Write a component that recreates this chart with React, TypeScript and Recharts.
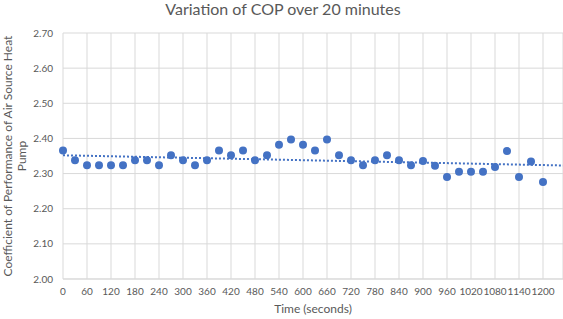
import React from "react";
import { CartesianGrid, ComposedChart, Line, Scatter, XAxis, YAxis } from "recharts";

// time in seconds, COP
const times = [
  0, 30, 60, 90, 120, 150, 180, 210, 240, 270, 300, 330, 360, 390, 420, 450, 480, 510, 540, 570,
  600, 630, 660, 690, 720, 750, 780, 810, 840, 870, 900, 930, 960, 990, 1020, 1050, 1080, 1110, 1140, 1170, 1200,
];
const cop = [
  2.366, 2.338, 2.324, 2.324, 2.324, 2.324, 2.338, 2.338, 2.324, 2.352, 2.338, 2.324, 2.338, 2.366, 2.352, 2.366, 2.338, 2.352, 2.382, 2.397,
  2.382, 2.366, 2.397, 2.352, 2.338, 2.324, 2.338, 2.352, 2.338, 2.324, 2.336, 2.322, 2.290, 2.305, 2.305, 2.305, 2.319, 2.364, 2.290, 2.334, 2.276,
];

// dotted linear trend, ends
const trendTimes = [0, 1250];
const trendCop = [2.352, 2.323];

const xTicks = [0, 60, 120, 180, 240, 300, 360, 420, 480, 540, 600, 660, 720, 780, 840, 900, 960, 1020, 1080, 1140, 1200];
const yTicks = [2.0, 2.1, 2.2, 2.3, 2.4, 2.5, 2.6, 2.7];

const points = times.map((t, i) => ({ t, cop: cop[i] }));
const trend = trendTimes.map((t, i) => ({ t, trend: trendCop[i] }));

const blue = "#4472C4";
const grey = "#595959";
const font = "Lato, 'Open Sans', sans-serif";

export default function App() {
  return (
    <div style={{ position: "absolute", left: 0, top: 0, width: 563, height: 319, fontFamily: font, background: "#fff", overflow: "hidden" }}>
      <ComposedChart width={563} height={319} margin={{ top: 33, right: 0, bottom: 0, left: 0 }}>
        <CartesianGrid stroke="#d9d9d9" />
        <XAxis
          type="number"
          dataKey="t"
          domain={[0, 1250]}
          ticks={xTicks}
          interval={0}
          height={40}
          tickSize={0}
          tickMargin={9}
          axisLine={{ stroke: "#d9d9d9" }}
          tick={{ fill: grey, fontSize: 10, fontFamily: font }}
        />
        <YAxis
          type="number"
          domain={[2.0, 2.7]}
          ticks={yTicks}
          interval={0}
          width={63}
          tickSize={0}
          tickMargin={10}
          axisLine={false}
          tickFormatter={(v: number) => v.toFixed(2)}
          tick={{ fill: grey, fontSize: 10, fontFamily: font }}
        />
        <Line
          data={trend}
          dataKey="trend"
          stroke={blue}
          strokeWidth={2}
          strokeDasharray="2 2"
          dot={false}
          isAnimationActive={false}
        />
        <Scatter data={points} dataKey="cop" fill={blue} isAnimationActive={false} shape={(p: any) => <circle cx={p.cx} cy={p.cy} r={4} fill={blue} />} />
      </ComposedChart>
      <div style={{ position: "absolute", left: 0, top: 0, width: 566, textAlign: "center", fontSize: 16, lineHeight: "18px", color: grey }}>
        Variation of COP over 20 minutes
      </div>
      <div
        style={{
          position: "absolute",
          left: 15 - 150,
          top: 156 - 14,
          width: 300,
          textAlign: "center",
          fontSize: 12,
          lineHeight: "14px",
          color: grey,
          transform: "rotate(-90deg)",
        }}
      >
        Coefficient of Performance of Air Source Heat
        <br />
        Pump
      </div>
      <div style={{ position: "absolute", left: 63, top: 302, width: 500, textAlign: "center", fontSize: 12, lineHeight: "14px", color: grey }}>
        Time (seconds)
      </div>
    </div>
  );
}
